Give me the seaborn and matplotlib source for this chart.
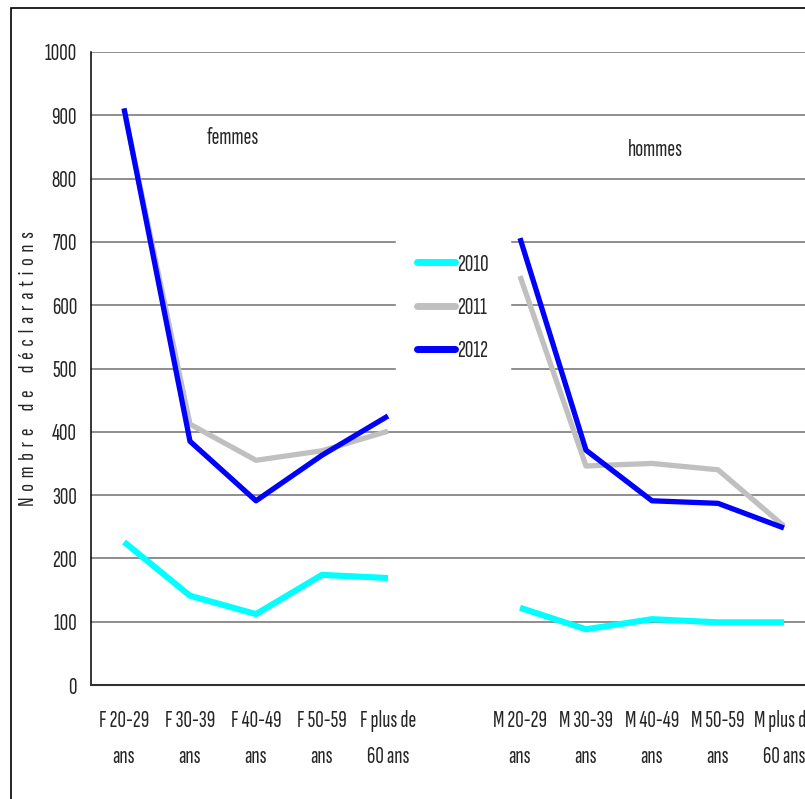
import matplotlib
matplotlib.use("Agg")
import matplotlib.pyplot as plt
from matplotlib.patches import Rectangle
from matplotlib.ticker import MultipleLocator, FixedLocator
import seaborn as sns
import pandas as pd

# Age groups per sex (a blank slot separates women and men)
categories = ["F 20-29\nans", "F 30-39\nans", "F 40-49\nans", "F 50-59\nans", "F plus de\n60 ans",
              "",
              "M 20-29\nans", "M 30-39\nans", "M 40-49\nans", "M 50-59\nans", "M plus de\n60 ans"]
groups = ["F"] * 5 + [None] + ["M"] * 5

years = ["2010", "2011", "2012"]
v2010 = [226, 141, 112, 174, 169, None, 122, 88, 104, 99, 99]
v2011 = [908, 412, 355, 370, 401, None, 646, 346, 350, 340, 251]
v2012 = [911, 385, 291, 363, 425, None, 706, 371, 291, 287, 248]
colors = ["#00FFFF", "#C0C0C0", "#0000FF"]
widths = [4.4, 3.8, 3.8]

rows = []
for year, vals in zip(years, [v2010, v2011, v2012]):
    for i, (g, v) in enumerate(zip(groups, vals)):
        if v is None:
            continue
        rows.append({"pos": i + 0.5, "value": v, "annee": year, "sexe": g})
df = pd.DataFrame(rows)

sns.set_theme(style="white")
font = ["Sofia Sans Extra Condensed", "Archivo Narrow", "Liberation Sans", "DejaVu Sans"]
plt.rcParams["font.family"] = font
FS = 17

W, H = 805, 799
fig = plt.figure(figsize=(W / 100, H / 100), dpi=100)
fig.patch.set_facecolor("white")

# figure frame
fig.patches.append(Rectangle((11 / W, -0.05), 1.2, 1 - 8 / H + 0.05, transform=fig.transFigure,
                             fill=False, edgecolor="black", linewidth=1.2, zorder=0))

ax = fig.add_axes([91 / W, 1 - 685 / H, 726 / W, 633 / H])
ax.set_facecolor("white")

sns.lineplot(data=df, x="pos", y="value", hue="annee", hue_order=years, palette=colors,
             units="sexe", estimator=None, linewidth=3.8, sort=False, ax=ax, legend=False,
             solid_capstyle="butt")
# two segments (women, men) per year, drawn in year order
for k, line in enumerate(ax.get_lines()):
    line.set_linewidth(widths[k // 2])

ax.set_xlim(0, 11)
ax.set_ylim(0, 1000)
ax.yaxis.set_major_locator(MultipleLocator(100))
ax.set_xticks([i for i in range(12)])
ax.set_xticklabels([])
ax.xaxis.set_minor_locator(FixedLocator([i + 0.5 for i in range(11)]))
ax.set_xticklabels(categories, minor=True)
ax.tick_params(axis="x", which="minor", length=0, pad=18, labelsize=FS)
ax.tick_params(axis="x", which="major", length=6, width=1, color="black", direction="out")
ax.tick_params(axis="y", length=6, width=1, color="black", direction="out", labelsize=FS, pad=4)
for lab in ax.get_xticklabels(minor=True):
    lab.set_linespacing(1.8)

ax.grid(axis="y", color="#707070", linewidth=1.1)
ax.set_axisbelow(True)
for side in ["top", "right"]:
    ax.spines[side].set_visible(False)
ax.spines["left"].set_color("black")
ax.spines["bottom"].set_color("#303030")
ax.spines["left"].set_linewidth(1.1)
ax.spines["bottom"].set_linewidth(1.5)

ax.set_xlabel("")
ax.set_ylabel("N  o  m  b  r  e      d  e      d  é  c  l  a  r  a  t  i  o  n  s", fontsize=16.5, labelpad=5)

ax.text(0.1956, 0.864, "femmes", transform=ax.transAxes, ha="center", va="center", fontsize=FS)
ax.text(0.777, 0.845, "hommes", transform=ax.transAxes, ha="center", va="center", fontsize=FS)

handles = [plt.Line2D([], [], color=c, linewidth=5) for c in colors]
leg = fig.legend(handles, years, loc="center", bbox_to_anchor=(453 / W, 1 - 308 / H),
                 frameon=True, fontsize=FS, handlelength=1.6, handletextpad=0.1,
                 labelspacing=0.9, borderpad=0.9, borderaxespad=0)
leg.get_frame().set_facecolor("white")
leg.get_frame().set_edgecolor("white")
leg.get_frame().set_alpha(1)

fig.savefig("out.png", dpi=100, facecolor="white")
